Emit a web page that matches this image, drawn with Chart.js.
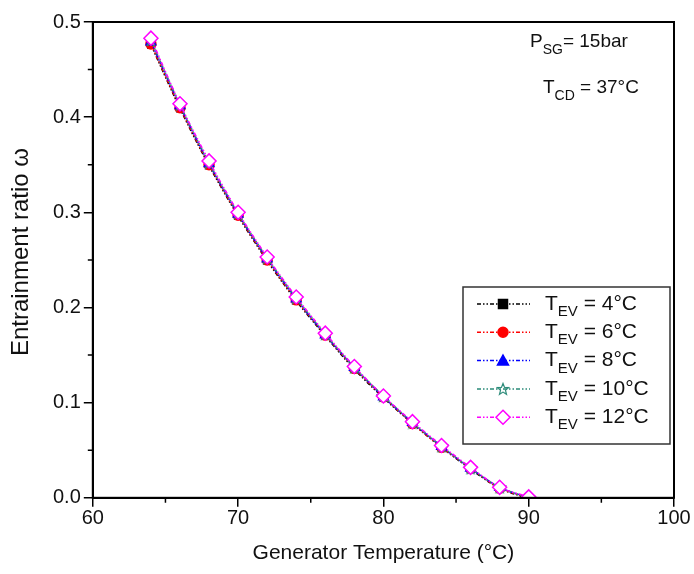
<!DOCTYPE html>
<html>
<head>
<meta charset="utf-8">
<script src="https://cdn.jsdelivr.net/npm/chart.js@4.4.1/dist/chart.umd.min.js"></script>
<style>
  body { margin: 0; background: #fff; }
  #wrap { width: 694px; height: 574px; }
</style>
</head>
<body>
<div id="wrap"><canvas id="myChart" width="694" height="574"></canvas></div>
<script>
const temps = [64, 66, 68, 70, 72, 74, 76, 78, 80, 82, 84, 86, 88, 90];
const ev4 = [0.476, 0.409, 0.349, 0.296, 0.249, 0.207, 0.170, 0.135, 0.105, 0.078, 0.053, 0.030, 0.010, -0.001];
const ev6 = [0.477, 0.410, 0.350, 0.297, 0.250, 0.208, 0.171, 0.136, 0.106, 0.078, 0.053, 0.031, 0.010, 0.000];
const ev8 = [0.479, 0.412, 0.351, 0.298, 0.251, 0.209, 0.171, 0.137, 0.106, 0.079, 0.054, 0.031, 0.011, 0.000];
const ev10 = [0.481, 0.413, 0.352, 0.299, 0.252, 0.210, 0.172, 0.137, 0.107, 0.079, 0.054, 0.031, 0.011, 0.000];
const ev12 = [0.483, 0.414, 0.354, 0.300, 0.253, 0.211, 0.173, 0.138, 0.107, 0.080, 0.055, 0.032, 0.011, 0.001];
const evLabels = ["4°C", "6°C", "8°C", "10°C", "12°C"];

const FONT = "'Liberation Sans', Arial, sans-serif";
const dashDot = [4, 2, 1.5, 2, 1.5, 2];

// hollow five point star for the 10°C series
function makeStar(color) {
  const c = document.createElement("canvas");
  c.width = 14; c.height = 14;
  const g = c.getContext("2d");
  g.strokeStyle = color;
  g.lineWidth = 1.2;
  g.beginPath();
  for (let i = 0; i < 10; i++) {
    const r = i % 2 === 0 ? 6 : 2.6;
    const a = -Math.PI / 2 + i * Math.PI / 5;
    const x = 7 + r * Math.cos(a), y = 7.5 + r * Math.sin(a);
    if (i === 0) g.moveTo(x, y); else g.lineTo(x, y);
  }
  g.closePath();
  g.stroke();
  return c;
}
const starImg = makeStar("#2a8a78");

const series = [
  { data: ev4, color: "#000000", style: "rect", fill: "#000000", r: 4.5 },
  { data: ev6, color: "#ff0000", style: "circle", fill: "#ff0000", r: 5 },
  { data: ev8, color: "#0000ff", style: "triangle", fill: "#0000ff", r: 5.5 },
  { data: ev10, color: "#2a8a78", style: starImg, fill: "#2a8a78", r: 6 },
  { data: ev12, color: "#ff00ff", style: "rectRot", fill: "#ffffff", r: 7 }
];

const datasets = series.map((s, i) => ({
  label: "T_EV = " + evLabels[i],
  data: temps.map((t, k) => ({ x: t, y: s.data[k] })),
  borderColor: s.color,
  borderWidth: 1.5,
  borderDash: dashDot,
  backgroundColor: s.fill,
  pointStyle: s.style,
  pointRadius: s.r,
  pointBorderColor: s.color,
  pointBorderWidth: 1.5,
  pointBackgroundColor: s.fill,
  tension: 0.3,
  order: 4 - i
}));

function subText(ctx, x, y, parts) {
  // parts: [text, size, dy]
  let cx = x;
  parts.forEach(p => {
    ctx.font = p[1] + "px " + FONT;
    ctx.fillText(p[0], cx, y + p[2]);
    cx += ctx.measureText(p[0]).width;
  });
}

function drawMark(ctx, s, x, y) {
  ctx.save();
  ctx.fillStyle = s.fill;
  ctx.strokeStyle = s.color;
  ctx.lineWidth = 1.5;
  ctx.setLineDash([]);
  const r = s.r;
  ctx.beginPath();
  if (s.style === "rect") {
    ctx.rect(x - r, y - r, 2 * r, 2 * r);
  } else if (s.style === "circle") {
    ctx.arc(x, y, r, 0, Math.PI * 2);
  } else if (s.style === "triangle") {
    ctx.moveTo(x, y - r);
    ctx.lineTo(x + r, y + r * 0.8);
    ctx.lineTo(x - r, y + r * 0.8);
    ctx.closePath();
  } else if (s.style === "rectRot") {
    ctx.moveTo(x, y - r); ctx.lineTo(x + r, y); ctx.lineTo(x, y + r); ctx.lineTo(x - r, y);
    ctx.closePath();
  } else {
    ctx.drawImage(s.style, x - 7, y - 7);
    ctx.restore();
    return;
  }
  ctx.fill();
  ctx.stroke();
  ctx.restore();
}

const extras = {
  id: "extras",
  afterDraw(chart) {
    const ctx = chart.ctx;
    const a = chart.chartArea;
    const xs = chart.scales.x, ys = chart.scales.y;
    ctx.save();
    // frame
    ctx.strokeStyle = "#000";
    ctx.lineWidth = 2;
    ctx.strokeRect(a.left, a.top, a.right - a.left, a.bottom - a.top);
    // minor ticks
    ctx.lineWidth = 1.5;
    ctx.beginPath();
    [65, 75, 85, 95].forEach(v => {
      const px = xs.getPixelForValue(v);
      ctx.moveTo(px, a.bottom); ctx.lineTo(px, a.bottom + 5);
    });
    [0.05, 0.15, 0.25, 0.35, 0.45].forEach(v => {
      const py = ys.getPixelForValue(v);
      ctx.moveTo(a.left, py); ctx.lineTo(a.left - 5, py);
    });
    ctx.stroke();

    // y axis title
    ctx.save();
    ctx.translate(21, 252);
    ctx.rotate(-Math.PI / 2);
    ctx.fillStyle = "#111";
    ctx.textAlign = "center";
    ctx.textBaseline = "middle";
    ctx.font = "24px " + FONT;
    ctx.fillText("Entrainment ratio ω", 0, 0);
    ctx.restore();

    // annotation
    ctx.fillStyle = "#111";
    ctx.textBaseline = "middle";
    ctx.textAlign = "left";
    subText(ctx, 530, 42, [["P", 19, 0], ["SG", 14, 8], ["= 15bar", 19, 0]]);
    subText(ctx, 543, 88, [["T", 19, 0], ["CD", 14, 8], [" = 37°C", 19, 0]]);

    // legend
    const lx = 463, ly = 287, lw = 207, lh = 157;
    ctx.lineWidth = 1.5;
    ctx.strokeStyle = "#333";
    ctx.fillStyle = "#fff";
    ctx.fillRect(lx, ly, lw, lh);
    ctx.strokeRect(lx, ly, lw, lh);
    series.forEach((s, i) => {
      const y = 304 + i * 28.3;
      ctx.strokeStyle = s.color;
      ctx.lineWidth = 1.5;
      ctx.setLineDash(dashDot);
      ctx.beginPath();
      ctx.moveTo(477, y); ctx.lineTo(530, y);
      ctx.stroke();
      ctx.setLineDash([]);
      drawMark(ctx, s, 503, y);
      ctx.fillStyle = "#111";
      subText(ctx, 545, y, [["T", 21, 0], ["EV", 15, 8], [" = " + evLabels[i], 21, 0]]);
    });
    ctx.restore();
  }
};

const config = {
  type: "line",
  data: { datasets: datasets },
  options: {
    responsive: false,
    animation: false,
    layout: { padding: { top: 22, right: 20, left: 50, bottom: 8 } },
    plugins: {
      legend: { display: false },
      tooltip: { enabled: false }
    },
    scales: {
      x: {
        type: "linear",
        min: 60,
        max: 100,
        ticks: { stepSize: 10, color: "#111", font: { family: FONT, size: 20 }, padding: 0 },
        grid: { drawOnChartArea: false, drawTicks: true, tickLength: 9, color: "#000", lineWidth: 1.5 },
        border: { color: "#000", width: 2 },
        title: { display: true, text: "Generator Temperature (°C)", color: "#111", font: { family: FONT, size: 21 }, padding: { top: 10, bottom: 0 } }
      },
      y: {
        min: 0,
        max: 0.5,
        ticks: { stepSize: 0.1, color: "#111", font: { family: FONT, size: 20 }, padding: 3, callback: v => v.toFixed(1) },
        grid: { drawOnChartArea: false, drawTicks: true, tickLength: 9, color: "#000", lineWidth: 1.5 },
        border: { color: "#000", width: 2 }
      }
    }
  },
  plugins: [extras]
};

const ctx = document.getElementById("myChart").getContext("2d");
new Chart(ctx, config);
</script>
</body>
</html>
